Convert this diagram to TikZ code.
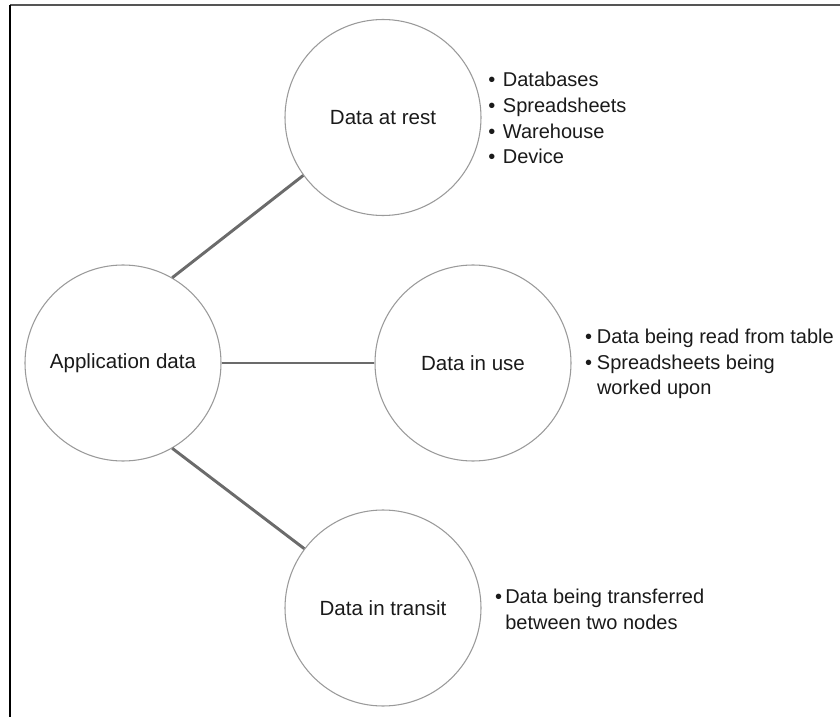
\documentclass[tikz,border=0pt]{standalone}
\usepackage{fontspec}
\setmainfont{Liberation Sans}
\definecolor{conn}{HTML}{6B6B6B}
\definecolor{ring}{HTML}{9A9A9A}
\definecolor{txt}{HTML}{1A1A1A}
\definecolor{frametop}{HTML}{555555}
\begin{document}
\begin{tikzpicture}[x=0.75pt,y=-0.75pt,
  bubble/.style={circle,draw=ring,line width=0.8pt,minimum size=147pt,inner sep=0pt,
    text=txt,font=\fontsize{15.4}{18}\selectfont},
  link/.style={draw=conn,line width=2.2pt},
  notes/.style={anchor=base west,inner sep=0pt,text=txt,font=\fontsize{15}{19.3}\selectfont}]
\useasboundingbox (0,0) rectangle (840,717);
\draw[frametop,line width=1.3pt] (840,5) -- (10,5);
\draw[black,line width=1pt] (10,5) -- (10,717);

\node[bubble] (app) at (123,363) {Application data};
\node[bubble] (rest) at (383,117.5) {Data at rest};
\node[bubble] (use) at (473,363) {Data in use};
\node[bubble] (transit) at (383,608) {Data in transit};

\draw[link] (app.60.8) -- (rest.216.9);
\draw[link] (app.east) -- (use.west);
\draw[link] (app.-60.7) -- (transit.143.2);

\node[notes] (restnotes) at (488.2,86.7) {\begin{tabular}[t]{@{}l@{\hspace{5.6pt}}l@{}}
\textbullet & Databases\\
\textbullet & Spreadsheets\\
\textbullet & Warehouse\\
\textbullet & Device
\end{tabular}};
\node[notes] (usenotes) at (584.8,343.3) {\begin{tabular}[t]{@{}l@{\hspace{3.7pt}}l@{}}
\textbullet & Data being read from table\\
\textbullet & Spreadsheets being\\
 & worked upon
\end{tabular}};
\node[notes] (transitnotes) at (494.8,603.3) {\begin{tabular}[t]{@{}l@{\hspace{2.4pt}}l@{}}
\textbullet & Data being transferred\\
 & between two nodes
\end{tabular}};
\end{tikzpicture}
\end{document}
